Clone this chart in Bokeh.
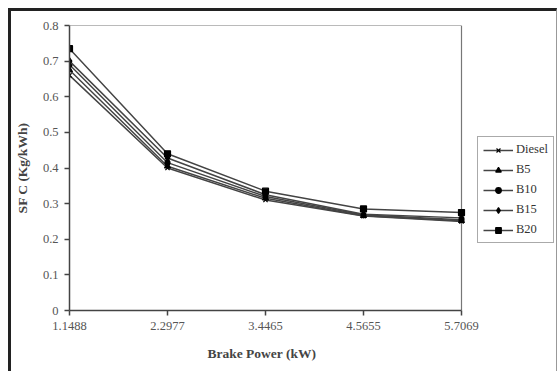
from bokeh.plotting import figure
from bokeh.models import Legend, LegendItem, FixedTicker, CustomJSTickFormatter, Range1d, Title
from bokeh.embed import file_html
from bokeh.resources import INLINE

x_labels = ["1.1488", "2.2977", "3.4465", "4.5655", "5.7069"]
diesel = [0.660, 0.400, 0.310, 0.265, 0.250]
b5 = [0.675, 0.405, 0.315, 0.266, 0.252]
b10 = [0.690, 0.415, 0.320, 0.268, 0.255]
b15 = [0.700, 0.428, 0.325, 0.270, 0.260]
b20 = [0.735, 0.440, 0.335, 0.285, 0.275]
series_names = ["Diesel", "B5", "B10", "B15", "B20"]
y_ticks = [0, 0.1, 0.2, 0.3, 0.4, 0.5, 0.6, 0.7, 0.8]

FONT = "Liberation Serif"
xs = list(range(len(x_labels)))
x_last = xs[-1]
y_top = y_ticks[-1]

# frame extends right so the legend (outside the plot box) is not clipped
p = figure(frame_width=487, frame_height=285, output_backend="svg", toolbar_location=None,
           x_range=Range1d(0, x_last * 487 / 392), y_range=Range1d(0, y_top),
           min_border_left=58, min_border_right=0, min_border_top=14, min_border_bottom=60)
p.styles = {"margin-left": "8px", "margin-top": "8px",
            "border-top": "3px solid #222", "border-left": "3px solid #222",
            "border-right": "1px solid #999"}
p.grid.visible = False
p.outline_line_color = None

# plot-area box: top and right edges
p.segment(x0=[0, x_last], y0=[y_top, 0], x1=[x_last, x_last], y1=[y_top, y_top],
          line_color="#777", line_width=1.2)

p.xaxis.ticker = FixedTicker(ticks=xs)
p.xaxis.bounds = (0, x_last)
p.xaxis.formatter = CustomJSTickFormatter(args=dict(labels=x_labels),
                                          code="return labels[Math.round(tick)];")
p.yaxis.ticker = FixedTicker(ticks=y_ticks)
p.yaxis.formatter = CustomJSTickFormatter(code="return tick == 0 ? '0' : tick.toFixed(1);")
p.xaxis.minor_tick_line_color = None
p.yaxis.minor_tick_line_color = None
for ax in (p.xaxis, p.yaxis):
    ax.axis_line_color = "#444"
    ax.axis_line_width = 1.5
    ax.major_tick_line_color = "#444"
    ax.major_tick_line_width = 1.5
    ax.major_tick_in = 0
    ax.major_tick_out = 5
    ax.major_label_text_font = FONT
    ax.major_label_text_font_size = "12.5px"
    ax.major_label_text_color = "#555"
    ax.axis_label_text_font = FONT
    ax.axis_label_text_font_size = "13.5px"
    ax.axis_label_text_font_style = "bold"
    ax.axis_label_text_color = "#444"
p.yaxis.axis_label = "SF C (Kg/kWh)"
p.xaxis.major_label_standoff = 6
p.yaxis.major_label_standoff = 6
p.yaxis.axis_label_standoff = 10

# x-axis title centred under the plot box (not the extended frame)
xtitle = Title(text="Brake Power (kW)", align="left", offset=138,
               text_font=FONT, text_font_size="13.5px", text_font_style="bold",
               text_color="#444", standoff=22)
p.add_layout(xtitle, "below")

data = [diesel, b5, b10, b15, b20]
markers = ["x", "triangle", "circle", "diamond", "square"]
sizes = [6, 6, 5, 7, 6]
items = []
for name, ys, m, s in zip(series_names, data, markers, sizes):
    r1 = p.line(xs, ys, line_color="#444", line_width=1.5)
    r2 = p.scatter(xs, ys, marker=m, size=s, fill_color="black", line_color="black", line_width=1.2)
    items.append(LegendItem(label=name, renderers=[r1, r2]))

legend = Legend(items=items, location=(408, 67), orientation="vertical",
                label_text_font=FONT, label_text_font_size="12.5px", label_text_color="#333",
                border_line_color="#555", border_line_width=1, background_fill_color="white",
                glyph_width=30, glyph_height=14, spacing=5, padding=5, margin=0,
                label_standoff=3, label_width=30)
p.add_layout(legend, "center")

open("out.html", "w").write(file_html(p, INLINE))
